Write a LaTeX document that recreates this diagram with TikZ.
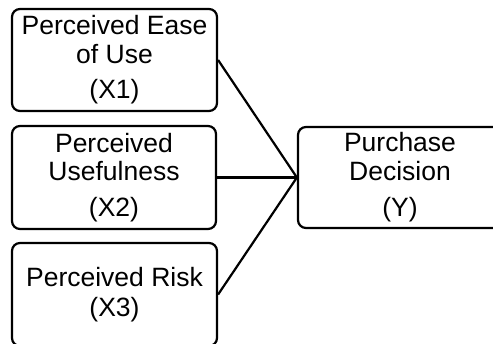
\documentclass[tikz,border=0pt]{standalone}
\usepackage{fontspec}
\setmainfont{Liberation Sans}
\begin{document}
\begin{tikzpicture}[x=1pt,y=1pt,
  varbox/.style={draw=black, line width=2.2pt, rounded corners=8pt, fill=white,
    align=center, inner sep=0pt,
    font=\fontsize{26.5}{28.5}\selectfont},
  link/.style={draw=black, line width=2.2pt}]
  \useasboundingbox (0,0) rectangle (493,343);
  % independent variables
  \node[varbox, minimum width=205pt, minimum height=102pt] (x1) at (114.5,283)
    {Perceived Ease\\of Use\\[7pt](X1)};
  \node[varbox, minimum width=204pt, minimum height=103pt] (x2) at (114,165.5)
    {Perceived\\Usefulness\\[7pt](X2)};
  \node[varbox, minimum width=205pt, minimum height=103pt] (x3) at (114.5,48.5)
    {Perceived Risk\\[2pt](X3)};
  % dependent variable
  \node[varbox, minimum width=204pt, minimum height=101pt] (y) at (400,165.5)
    {Purchase\\Decision\\[8pt](Y)};
  % paths
  \draw[link] (x1.east) -- (y.west);
  \draw[link] (x2.east) -- (y.west);
  \draw[link] (x3.east) -- (y.west);
\end{tikzpicture}
\end{document}
